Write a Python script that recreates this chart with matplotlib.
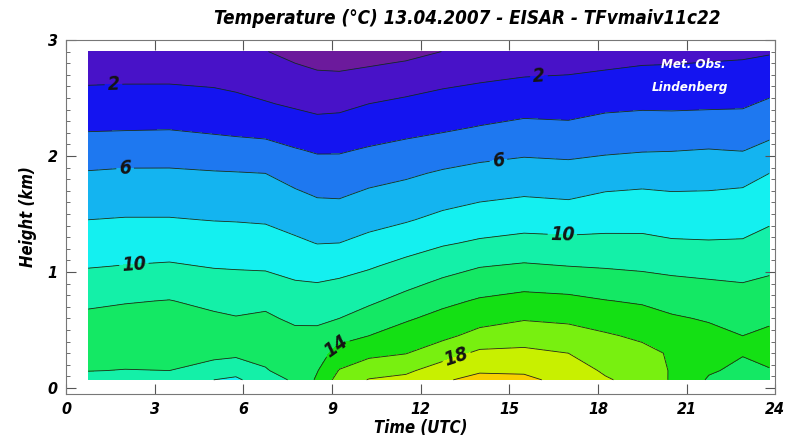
import matplotlib
matplotlib.use('Agg')
import matplotlib.pyplot as plt
import numpy as np
from matplotlib.colors import ListedColormap, BoundaryNorm

# time of each profile (UTC) and heights of the grid (km)
times = [0.75, 2, 3.5, 5, 5.75, 6.75, 7.75, 8.5, 9.25, 10.25, 11.5,
         12.75, 14, 15.5, 17, 18.25, 19.5, 20.5, 21.75, 22.9, 23.8]
heights = [0.07, 0.15, 0.3, 0.45, 0.6, 0.75, 0.9, 1.05, 1.25, 1.45,
           1.65, 1.85, 2.05, 2.25, 2.45, 2.65, 2.8, 2.9]

# temperature profiles (deg C), one row per time, bottom to top
profiles = [
    [11.3, 12.05, 12.7, 12.9, 12.4, 11.65, 10.76, 9.9, 8.95, 8.0, 7.07, 6.14, 4.94, 3.76, 2.78, 1.8, 1.07, 0.59],
    [11.4, 11.95, 12.6, 13.0, 12.6, 11.88, 10.97, 10.06, 9.07, 8.1, 7.18, 6.27, 5.07, 3.8, 2.83, 1.85, 1.12, 0.63],
    [11.4, 12.0, 12.7, 13.1, 12.8, 12.06, 11.13, 10.19, 9.13, 8.1, 7.18, 6.27, 5.1, 3.85, 2.85, 1.85, 1.1, 0.6],
    [10.0, 11.2, 12.5, 12.8, 12.3, 11.56, 10.72, 9.9, 8.93, 7.95, 7.05, 6.14, 4.83, 3.62, 2.67, 1.71, 1.0, 0.52],
    [9.6, 10.8, 12.4, 12.6, 12.1, 11.35, 10.6, 9.85, 8.88, 7.91, 7.0, 6.09, 4.71, 3.5, 2.5, 1.5, 0.75, 0.25],
    [11.4, 11.85, 12.6, 12.8, 12.3, 11.56, 10.63, 9.76, 8.78, 7.82, 6.91, 6.0, 4.62, 3.33, 2.12, 1.16, 0.47, 0.05],
    [12.2, 12.9, 13.0, 12.5, 11.65, 10.9, 10.15, 9.37, 8.32, 7.33, 6.38, 5.29, 4.12, 2.91, 1.75, 0.75, 0.0, -0.45],
    [14.3, 13.9, 13.17, 12.44, 11.68, 10.86, 10.05, 9.15, 7.95, 6.95, 5.95, 4.89, 3.82, 2.61, 1.49, 0.46, -0.31, -0.82],
    [16.8, 16.1, 14.73, 13.36, 12.0, 11.14, 10.29, 9.33, 8.0, 6.95, 5.9, 4.87, 3.83, 2.69, 1.56, 0.44, -0.39, -0.94],
    [18.1, 17.18, 15.5, 14.0, 12.8, 11.69, 10.75, 9.81, 8.52, 7.4, 6.4, 5.31, 4.17, 3.08, 2.0, 0.75, -0.19, -0.8],
    [18.5, 17.65, 15.93, 14.86, 13.77, 12.62, 11.53, 10.53, 9.17, 7.84, 6.79, 5.71, 4.53, 3.42, 2.37, 1.13, 0.13, -0.53],
    [19.8, 18.95, 17.14, 15.55, 14.58, 13.54, 12.38, 11.26, 9.8, 8.47, 7.3, 6.22, 4.93, 3.7, 2.7, 1.61, 0.65, 0.02],
    [20.5, 19.81, 18.38, 16.63, 15.29, 14.21, 13.08, 11.92, 10.25, 8.94, 7.71, 6.57, 5.35, 4.06, 2.97, 1.89, 1.08, 0.54],
    [20.4, 19.74, 18.43, 17.13, 15.84, 14.64, 13.44, 12.24, 10.58, 9.21, 8.0, 6.82, 5.64, 4.42, 3.28, 2.17, 1.33, 0.78],
    [19.4, 19.0, 18.0, 16.8, 15.62, 14.46, 13.25, 12.0, 10.46, 9.1, 7.83, 6.69, 5.52, 4.3, 3.25, 2.25, 1.5, 1.0],
    [18.2, 17.74, 16.97, 16.2, 15.19, 14.07, 12.96, 11.86, 10.48, 9.32, 8.26, 7.0, 5.73, 4.65, 3.57, 2.49, 1.68, 1.14],
    [17.3, 17.0, 16.5, 15.69, 14.75, 13.79, 12.71, 11.69, 10.44, 9.37, 8.39, 7.2, 5.89, 4.78, 3.69, 2.67, 1.9, 1.38],
    [15.8, 15.85, 15.8, 14.9, 14.2, 13.38, 12.44, 11.48, 10.19, 9.19, 8.24, 7.12, 5.94, 4.76, 3.66, 2.68, 1.95, 1.46],
    [13.8, 14.2, 14.6, 14.5, 13.84, 13.03, 12.22, 11.33, 10.12, 9.18, 8.27, 7.2, 6.06, 4.85, 3.71, 2.76, 2.05, 1.57],
    [13.2, 13.6, 14.1, 14.0, 13.35, 12.7, 12.04, 11.24, 10.16, 9.28, 8.43, 7.31, 5.94, 4.83, 3.77, 2.84, 2.14, 1.67],
    [13.5, 13.9, 14.5, 14.4, 13.68, 13.0, 12.32, 11.62, 10.67, 9.74, 8.87, 8.0, 6.52, 5.32, 4.26, 3.19, 2.38, 1.84],
]

levels = [-2, 0, 2, 4, 6, 8, 10, 12, 14, 16, 18, 20, 22]
band_colors = ['#6c1a9c', '#4812c8', '#1414f0', '#1e78f0', '#14b4f0', '#14f0f0',
               '#14f0a8', '#14e864', '#14e014', '#78f010', '#c8f000', '#f8d000']
label_levels = [2, 6, 10, 14, 18]
plain_levels = [0, 4, 8, 12, 16, 20]
label_spots = [(1.6, 2.67), (16.0, 2.71), (2.0, 1.94), (14.6, 2.03),
               (2.3, 1.06), (16.8, 1.34), (9.1, 0.37), (13.2, 0.28)]

x_ticks = [0, 3, 6, 9, 12, 15, 18, 21, 24]
y_ticks = [0, 1, 2, 3]

font = dict(family='DejaVu Sans', stretch='condensed', style='italic', weight='bold')

T = np.array(profiles).T
cmap = ListedColormap(band_colors)
norm = BoundaryNorm(levels, cmap.N)

fig = plt.figure(figsize=(8, 4.44), dpi=100)
ax = fig.add_axes([0.0825, 0.1126, 0.8865, 0.7974])

ax.contourf(times, heights, T, levels=levels, cmap=cmap, norm=norm)
ax.contour(times, heights, T, levels=plain_levels, colors='#1c2a1c', linewidths=0.6)
cs = ax.contour(times, heights, T, levels=label_levels, colors='#1c2a1c', linewidths=0.6)
lbls = ax.clabel(cs, manual=label_spots, inline=True, fmt='%d',
                 fontsize=14, colors='#141414', inline_spacing=3)
for t in lbls:
    t.set_fontstyle('italic')
    t.set_fontweight('bold')
    t.set_fontstretch('condensed')

ax.set_xlim(0, 24)
ax.set_ylim(-0.052, 3)
ax.set_xticks(x_ticks)
ax.set_yticks(y_ticks)
ax.set_yticks(np.arange(0, 3.01, 0.1), minor=True)
ax.tick_params(which='both', direction='in', top=True, right=True, color='#555555')
ax.tick_params(which='major', length=7, pad=6)
ax.tick_params(which='minor', length=3)
for lab in ax.get_xticklabels() + ax.get_yticklabels():
    lab.set_fontstretch('condensed')
    lab.set_fontstyle('italic')
    lab.set_fontweight('bold')
    lab.set_fontsize(11.5)
for s in ax.spines.values():
    s.set_color('#777777')
    s.set_linewidth(0.8)

ax.set_xlabel('Time (UTC)', fontsize=12, labelpad=1, **font)
ax.set_ylabel('Height (km)', fontsize=12, labelpad=8, **font)
fig.text(0.584, 0.958, 'Temperature (°C) 13.04.2007 - EISAR - TFvmaiv11c22',
         ha='center', va='center', fontsize=13.5, **font)

ax.text(0.885, 0.93, 'Met. Obs.', transform=ax.transAxes, ha='center', va='center',
        color='white', fontsize=9.5, **font)
ax.text(0.88, 0.865, 'Lindenberg', transform=ax.transAxes, ha='center', va='center',
        color='white', fontsize=9.5, **font)

fig.savefig('out.png', dpi=100)
